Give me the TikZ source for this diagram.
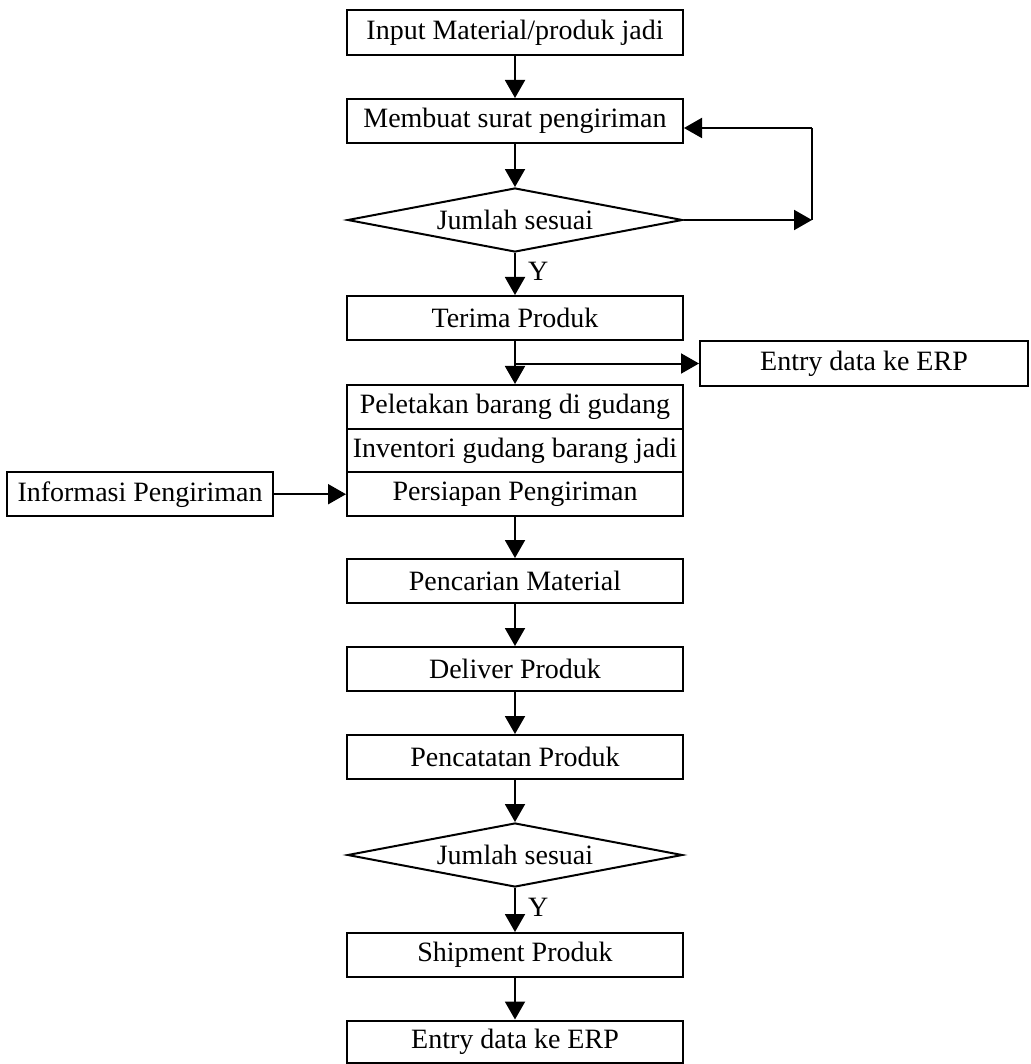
\documentclass[tikz,border=0pt]{standalone}
\usepackage{fontspec}
\setmainfont{Liberation Serif}
\usetikzlibrary{arrows.meta,shapes.geometric,calc}
\begin{document}
\begin{tikzpicture}[x=1pt,y=-1pt,
  every node/.style={font=\fontsize{28}{32}\selectfont},
  box/.style={draw,line width=2pt,minimum width=336pt,minimum height=44pt,inner sep=0pt,align=center},
  rowbox/.style={box,minimum height=43.67pt},
  dia/.style={draw,line width=2pt,diamond,aspect=5.2,minimum width=335pt,minimum height=64pt,inner sep=0pt},
  arr/.style={line width=2pt,-{Triangle[length=18pt,width=20pt]}},
  ln/.style={line width=2pt},
  lbl/.style={inner sep=0pt,anchor=west}]
\useasboundingbox (0,0) rectangle (1030,1064);
\node[box,minimum height=45pt] (b1) at (515,32.5) {Input Material/produk jadi};
\node[box] (b2) at (515,121) {Membuat surat pengiriman};
\node[dia] (d1) at (515,220) {Jumlah sesuai};
\node[box] (ter) at (515,318) {Terima Produk};
\node[box,minimum width=328pt,minimum height=45pt] (erp1) at (864,363.5) {Entry data ke ERP};
\node[rowbox] (r1) at (515,406.8) {Peletakan barang di gudang};
\node[rowbox] (r2) at (515,450.5) {Inventori gudang barang jadi};
\node[rowbox] (r3) at (515,494.2) {Persiapan Pengiriman};
\node[box,minimum width=266pt] (inf) at (140,494.2) {Informasi Pengiriman};
\node[box] (pm) at (515,581) {Pencarian Material};
\node[box] (dp) at (515,669) {Deliver Produk};
\node[box] (pp) at (515,757) {Pencatatan Produk};
\node[dia] (d2) at (515,855) {Jumlah sesuai};
\node[box] (sp) at (515,955) {Shipment Produk};
\node[box,minimum height=42pt] (erp2) at (515,1041.5) {Entry data ke ERP};
\coordinate (lr) at (812,220);
\coordinate (lt) at (812,128);
\draw[arr] (b1) -- (b2);
\draw[arr] (b2) -- (d1);
\draw[arr] (d1) -- (ter);
\node[lbl] (y1) at (528,271) {Y};
\draw[arr] (d1.east) -- (lr);
\draw[ln] (lr) -- (lt);
\draw[arr] (lt) -- (lt -| b2.east);
\draw[arr] (ter) -- (r1);
\draw[arr] (ter.south |- erp1.west) -- (erp1.west);
\draw[arr] (inf.east) -- (r3.west);
\draw[arr] (r3) -- (pm);
\draw[arr] (pm) -- (dp);
\draw[arr] (dp) -- (pp);
\draw[arr] (pp) -- (d2);
\draw[arr] (d2) -- (sp);
\node[lbl] (y2) at (528,907) {Y};
\draw[arr] (sp) -- (erp2);
\end{tikzpicture}
\end{document}
